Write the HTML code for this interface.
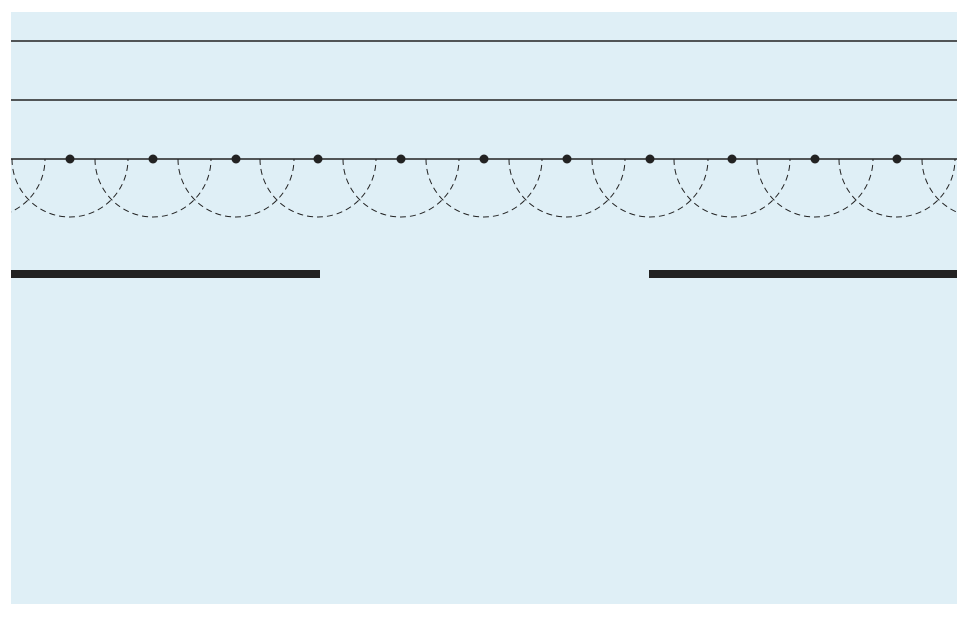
<!DOCTYPE html>
<html><head><style>html,body{margin:0;padding:0;background:#fff;}</style></head>
<body>
<svg width="968" height="614" viewBox="0 0 968 614" xmlns="http://www.w3.org/2000/svg">
<defs><clipPath id="c"><rect x="11" y="12" width="946" height="592"/></clipPath></defs>
<rect x="11" y="12" width="946" height="592" fill="#dfeff6"/>
<g stroke="#222" stroke-width="1.5">
<line x1="11" y1="41" x2="957" y2="41"/>
<line x1="11" y1="100" x2="957" y2="100"/>
<line x1="11" y1="159" x2="957" y2="159"/>
</g>
<g clip-path="url(#c)" fill="none" stroke="#222" stroke-width="1" stroke-dasharray="6,4">
<path d="M-71,159 A58,58 0 0,0 45,159"/>
<path d="M12,159 A58,58 0 0,0 128,159"/>
<path d="M95,159 A58,58 0 0,0 211,159"/>
<path d="M178,159 A58,58 0 0,0 294,159"/>
<path d="M260,159 A58,58 0 0,0 376,159"/>
<path d="M343,159 A58,58 0 0,0 459,159"/>
<path d="M426,159 A58,58 0 0,0 542,159"/>
<path d="M509,159 A58,58 0 0,0 625,159"/>
<path d="M592,159 A58,58 0 0,0 708,159"/>
<path d="M674,159 A58,58 0 0,0 790,159"/>
<path d="M757,159 A58,58 0 0,0 873,159"/>
<path d="M839,159 A58,58 0 0,0 955,159"/>
<path d="M922,159 A58,58 0 0,0 1038,159"/>
</g>
<g fill="#222">
<circle cx="70" cy="159" r="4.5"/><circle cx="153" cy="159" r="4.5"/><circle cx="236" cy="159" r="4.5"/>
<circle cx="318" cy="159" r="4.5"/><circle cx="401" cy="159" r="4.5"/><circle cx="484" cy="159" r="4.5"/>
<circle cx="567" cy="159" r="4.5"/><circle cx="650" cy="159" r="4.5"/><circle cx="732" cy="159" r="4.5"/>
<circle cx="815" cy="159" r="4.5"/><circle cx="897" cy="159" r="4.5"/>
<rect x="11" y="270" width="309" height="8"/>
<rect x="649" y="270" width="308" height="8"/>
</g>
</svg>
</body></html>
